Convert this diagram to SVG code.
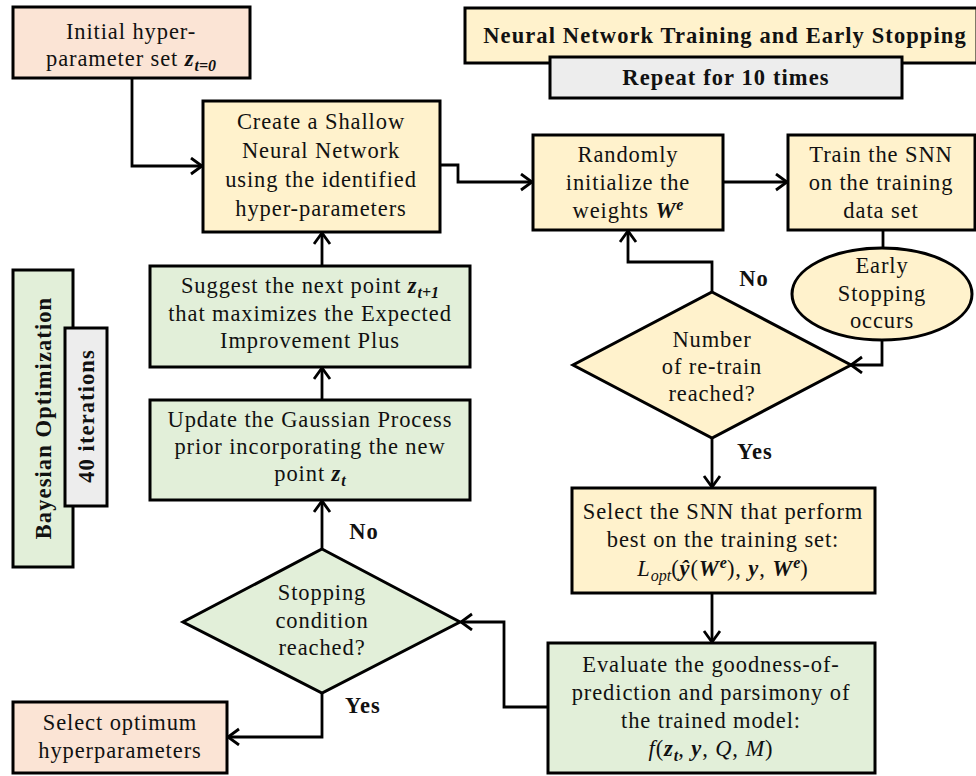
<svg xmlns="http://www.w3.org/2000/svg" width="976" height="776" viewBox="0 0 976 776">
  <defs>
    <marker id="arrow" markerUnits="userSpaceOnUse" markerWidth="16" markerHeight="22" refX="12" refY="9" orient="auto">
      <path d="M1,1 L12,9 L1,17" fill="none" stroke="#000" stroke-width="2.8" stroke-linejoin="miter"/>
    </marker>
    <style>
      .box { stroke: #000; stroke-width: 3; }
      .peach { fill: #fbe4d5; }
      .yellow { fill: #fff2cc; }
      .green { fill: #e2efd9; }
      .gray { fill: #ededed; }
      text { font-family: "Liberation Serif", "Times New Roman", serif; font-size: 22.5px; letter-spacing: 0.9px; fill: #111; text-anchor: middle; }
      .b { font-weight: bold; letter-spacing: 1.1px; }
      .bi { font-weight: bold; font-style: italic; }
      .i { font-style: italic; }
      .sub { font-size: 16px; letter-spacing: 0; }
      .conn path { fill: none; stroke: #000; stroke-width: 2.8; }
    </style>
  </defs>
  <rect width="976" height="776" fill="#fff"/>

  <!-- connectors -->
  <g class="conn">
    <path d="M132,78 V166 H202" marker-end="url(#arrow)"/>
    <path d="M440,165 H458 V182 H532" marker-end="url(#arrow)"/>
    <path d="M723,182 H787" marker-end="url(#arrow)"/>
    <path d="M883,230 V248"/>
    <path d="M882,340 V365 H851" marker-end="url(#arrow)"/>
    <path d="M712,292 V262 H628 V231" marker-end="url(#arrow)"/>
    <path d="M712,438 V487" marker-end="url(#arrow)"/>
    <path d="M712,593 V642" marker-end="url(#arrow)"/>
    <path d="M548,707 H504 V622 H461" marker-end="url(#arrow)"/>
    <path d="M322,549 V501" marker-end="url(#arrow)"/>
    <path d="M322,400 V368" marker-end="url(#arrow)"/>
    <path d="M322,266 V233" marker-end="url(#arrow)"/>
    <path d="M322,693 V737 H228" marker-end="url(#arrow)"/>
  </g>

  <!-- edge labels -->
  <g id="labels">
    <text class="b" x="754" y="286">No</text>
    <text class="b" x="755" y="459">Yes</text>
    <text class="b" x="364" y="539">No</text>
    <text class="b" x="363" y="713">Yes</text>
  </g>

  <g id="initial">
    <rect class="box peach" x="13" y="7" width="237" height="71"/>
    <text x="131" y="39">Initial hyper-</text>
    <text x="131" y="66">parameter set <tspan class="bi">z</tspan><tspan class="bi sub" dy="5">t=0</tspan></text>
  </g>

  <g id="nn-title">
    <rect class="box yellow" x="465" y="8" width="512" height="55"/>
    <text class="b" x="725" y="43">Neural Network Training and Early Stopping</text>
  </g>

  <g id="repeat">
    <rect class="box gray" x="550" y="57" width="352" height="41"/>
    <text class="b" x="726" y="85">Repeat for 10 times</text>
  </g>

  <g id="create">
    <rect class="box yellow" x="203" y="101" width="237" height="131"/>
    <text x="321" y="129">Create a Shallow</text>
    <text x="321" y="158">Neural Network</text>
    <text x="321" y="187">using the identified</text>
    <text x="321" y="216">hyper-parameters</text>
  </g>

  <g id="randomly">
    <rect class="box yellow" x="533" y="135" width="190" height="95"/>
    <text x="628" y="162">Randomly</text>
    <text x="628" y="190">initialize the</text>
    <text x="628" y="218">weights <tspan class="bi">W</tspan><tspan class="bi sub" dy="-8">e</tspan></text>
  </g>

  <g id="train">
    <rect class="box yellow" x="788" y="135" width="187" height="95"/>
    <text x="881" y="162">Train the SNN</text>
    <text x="881" y="190">on the training</text>
    <text x="881" y="218">data set</text>
  </g>

  <g id="early-stopping">
    <ellipse class="box yellow" cx="882" cy="294" rx="90" ry="46"/>
    <text x="882" y="273">Early</text>
    <text x="882" y="301">Stopping</text>
    <text x="882" y="328">occurs</text>
  </g>

  <g id="retrain-check">
    <polygon class="box yellow" points="712,292 851,365 712,438 573,365"/>
    <text x="712" y="347">Number</text>
    <text x="712" y="374">of re-train</text>
    <text x="712" y="401">reached?</text>
  </g>

  <g id="select-snn">
    <rect class="box yellow" x="572" y="488" width="303" height="105"/>
    <text x="723" y="519">Select the SNN that perform</text>
    <text x="723" y="547">best on the training set:</text>
    <text x="723" y="576"><tspan class="i">L</tspan><tspan class="i sub" dy="5">opt</tspan><tspan dy="-5">(</tspan><tspan class="bi">ŷ</tspan>(<tspan class="bi">W</tspan><tspan class="bi sub" dy="-8">e</tspan><tspan dy="8">), </tspan><tspan class="bi">y</tspan>, <tspan class="bi">W</tspan><tspan class="bi sub" dy="-8">e</tspan><tspan dy="8">)</tspan></text>
  </g>

  <g id="evaluate">
    <rect class="box green" x="548" y="643" width="327" height="130"/>
    <text x="711" y="672">Evaluate the goodness-of-</text>
    <text x="711" y="700">prediction and parsimony of</text>
    <text x="711" y="728">the trained model:</text>
    <text x="711" y="756"><tspan class="i">f</tspan>(<tspan class="bi">z</tspan><tspan class="bi sub" dy="5">t</tspan><tspan dy="-5">, </tspan><tspan class="bi">y</tspan>, <tspan class="i">Q</tspan>, <tspan class="i">M</tspan>)</text>
  </g>

  <g id="stop-check">
    <polygon class="box green" points="322,549 460,622 322,693 183,622"/>
    <text x="322" y="600">Stopping</text>
    <text x="322" y="628">condition</text>
    <text x="322" y="655">reached?</text>
  </g>

  <g id="update-gp">
    <rect class="box green" x="150" y="400" width="320" height="100"/>
    <text x="310" y="427">Update the Gaussian Process</text>
    <text x="310" y="454">prior incorporating the new</text>
    <text x="310" y="481">point <tspan class="bi">z</tspan><tspan class="bi sub" dy="5">t</tspan></text>
  </g>

  <g id="suggest">
    <rect class="box green" x="150" y="266" width="320" height="101"/>
    <text x="310" y="293">Suggest the next point <tspan class="bi">z</tspan><tspan class="bi sub" dy="5">t+1</tspan></text>
    <text x="310" y="321">that maximizes the Expected</text>
    <text x="310" y="348">Improvement Plus</text>
  </g>

  <g id="select-optimum">
    <rect class="box peach" x="13" y="702" width="214" height="71"/>
    <text x="120" y="730">Select optimum</text>
    <text x="120" y="758">hyperparameters</text>
  </g>

  <g id="bayesian">
    <rect class="box green" x="13" y="270" width="60" height="297"/>
    <text class="b" transform="translate(51,418) rotate(-90)">Bayesian Optimization</text>
  </g>

  <g id="iterations">
    <rect class="box gray" x="65" y="328" width="42" height="178"/>
    <text class="b" transform="translate(94,416) rotate(-90)">40 iterations</text>
  </g>
</svg>
